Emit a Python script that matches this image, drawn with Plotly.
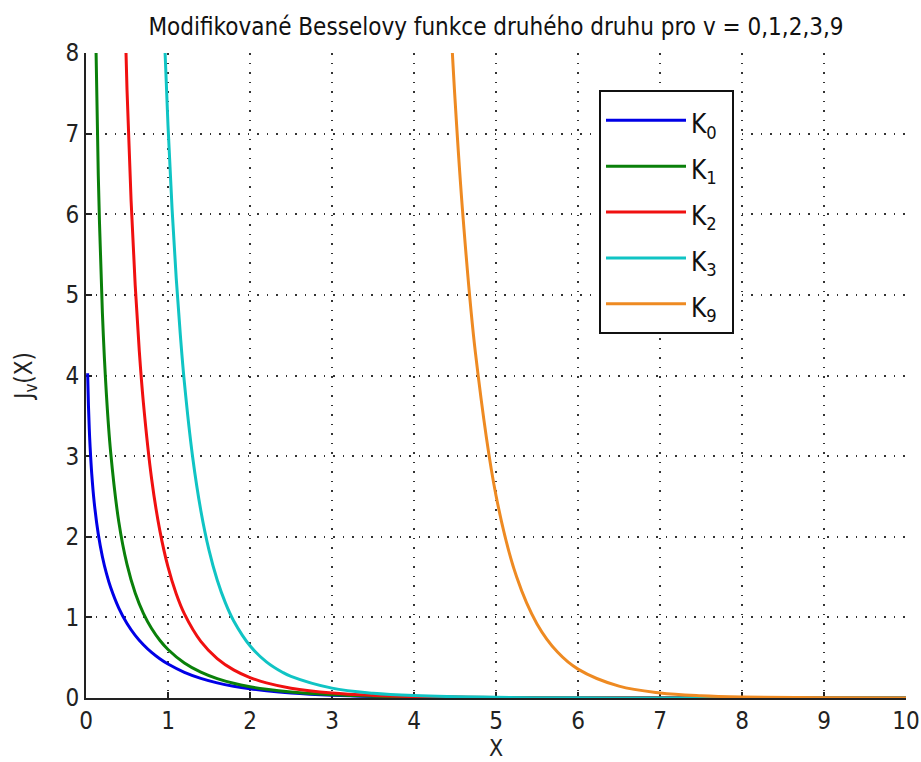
import plotly.graph_objects as go

# Values (x, K_v(x))
x_k0 = [0.02, 0.03, 0.04, 0.05, 0.07, 0.1, 0.15, 0.2, 0.25, 0.3, 0.4, 0.5, 0.6, 0.7, 0.8, 0.9, 1.0,
        1.2, 1.4, 1.6, 1.8, 2.0, 2.2, 2.5, 3.0, 3.5, 4.0, 5.0, 6.0, 8.0, 10.0]
y_k0 = [4.0285, 3.6235, 3.3365, 3.1142, 2.7798, 2.4271, 2.0300, 1.7527, 1.5415, 1.3725, 1.1145, 0.9244,
        0.7775, 0.6605, 0.5653, 0.4867, 0.4210, 0.3185, 0.2437, 0.1880, 0.1459, 0.1139, 0.0893, 0.0623,
        0.0347, 0.0196, 0.0112, 0.0037, 0.0012, 0.00015, 0.00002]

x_k1 = [0.1, 0.12, 0.15, 0.2, 0.25, 0.3, 0.4, 0.5, 0.6, 0.7, 0.8, 0.9, 1.0, 1.2, 1.4, 1.6, 1.8, 2.0,
        2.2, 2.5, 3.0, 3.5, 4.0, 5.0, 6.0, 8.0, 10.0]
y_k1 = [9.8538, 8.169, 6.478, 4.7760, 3.7470, 3.0560, 2.1844, 1.6564, 1.3028, 1.0503, 0.8618, 0.7165,
        0.6019, 0.4346, 0.3208, 0.2406, 0.1826, 0.1399, 0.1079, 0.0739, 0.0402, 0.0222, 0.0125, 0.0040,
        0.0013, 0.00016, 0.00002]

x_k2 = [0.45, 0.5, 0.55, 0.6, 0.65, 0.7, 0.8, 0.9, 1.0, 1.1, 1.2, 1.4, 1.6, 1.8, 2.0, 2.2, 2.5, 3.0,
        3.5, 4.0, 5.0, 6.0, 8.0, 10.0]
y_k2 = [9.419, 7.549, 6.167, 5.120, 4.302, 3.661, 2.720, 2.079, 1.625, 1.2925, 1.043, 0.702, 0.489,
        0.349, 0.254, 0.1874, 0.1215, 0.0615, 0.0323, 0.0175, 0.0053, 0.0017, 0.0002, 0.00002]

x_k3 = [0.9, 0.95, 1.0, 1.05, 1.1, 1.15, 1.2, 1.3, 1.4, 1.5, 1.6, 1.7, 1.8, 2.0, 2.2, 2.4, 2.5, 3.0,
        3.5, 4.0, 5.0, 6.0, 7.0, 8.0, 10.0]
y_k3 = [9.956, 8.37, 7.101, 6.06, 5.210, 4.51, 3.911, 2.992, 2.327, 1.834, 1.463, 1.179, 0.958, 0.6475,
        0.449, 0.317, 0.2683, 0.1222, 0.0591, 0.0300, 0.0083, 0.0025, 0.0008, 0.00025, 0.00003]

x_k9 = [4.4, 4.5, 4.6, 4.75, 5.0, 5.25, 5.5, 5.75, 6.0, 6.5, 7.0, 7.5, 8.0, 9.0, 10.0]
y_k9 = [9.33, 7.43, 5.939, 4.274, 2.512, 1.506, 0.919, 0.5695, 0.358, 0.1469, 0.063, 0.028, 0.0128,
        0.0031, 0.0007]

names = ["K<sub>0</sub>", "K<sub>1</sub>", "K<sub>2</sub>", "K<sub>3</sub>", "K<sub>9</sub>"]
colors = ["#0000e6", "#0a800a", "#f01010", "#10c4c4", "#ee8a22"]
xs_all = [x_k0, x_k1, x_k2, x_k3, x_k9]
ys_all = [y_k0, y_k1, y_k2, y_k3, y_k9]

x_ticks = [0, 1, 2, 3, 4, 5, 6, 7, 8, 9, 10]
y_ticks = [0, 1, 2, 3, 4, 5, 6, 7, 8]

FONT = "Liberation Sans Narrow, DejaVu Sans Condensed, Arial Narrow, sans-serif"

fig = go.Figure()
for name, xs, ys, col in zip(names, xs_all, ys_all, colors):
    label = "<span style='font-size:26px'>" + name + "</span>&nbsp;"
    fig.add_trace(go.Scatter(x=xs, y=ys, mode="lines", name=label,
                             line=dict(color=col, width=3, shape="spline", smoothing=1.0)))

axis_common = dict(
    showline=True, linecolor="#222222", linewidth=2,
    ticks="inside", ticklen=6, tickwidth=1.5, tickcolor="#222222",
    showgrid=True, gridcolor="#333333", gridwidth=1.5, griddash="1.5px,8px",
    zeroline=False, layer="below traces", automargin=False,
    tickfont=dict(family=FONT, size=24, color="#222222"),
)

fig.update_layout(
    width=921, height=762,
    margin=dict(l=86, r=15, t=53, b=64),
    paper_bgcolor="white", plot_bgcolor="white",
    title=dict(text="Modifikované Besselovy funkce druhého druhu pro v = 0,1,2,3,9",
               x=0.5, xref="paper", y=1 - 27 / 762, yref="container",
               xanchor="center", yanchor="middle",
               font=dict(family=FONT, size=24, color="#111111")),
    xaxis=dict(range=[0, 10], tickvals=x_ticks, **axis_common,
               title=dict(text="X", font=dict(family=FONT, size=23, color="#222222"), standoff=0)),
    yaxis=dict(range=[0, 8], tickvals=y_ticks, **axis_common,
               title=dict(text="J<sub>v</sub>(X)", font=dict(family=FONT, size=24, color="#222222"),
                          standoff=26)),
    legend=dict(x=(599 - 86) / 820, y=(697.7 - 90) / 645, xanchor="left", yanchor="top",
                bordercolor="#111111", borderwidth=2, bgcolor="white",
                font=dict(family=FONT, size=33, color="#111111"),
                itemwidth=80, tracegroupgap=0),
    showlegend=True,
)

fig.write_html("out.html", config={"displayModeBar": False},
               post_script="document.body.style.margin='0';")
